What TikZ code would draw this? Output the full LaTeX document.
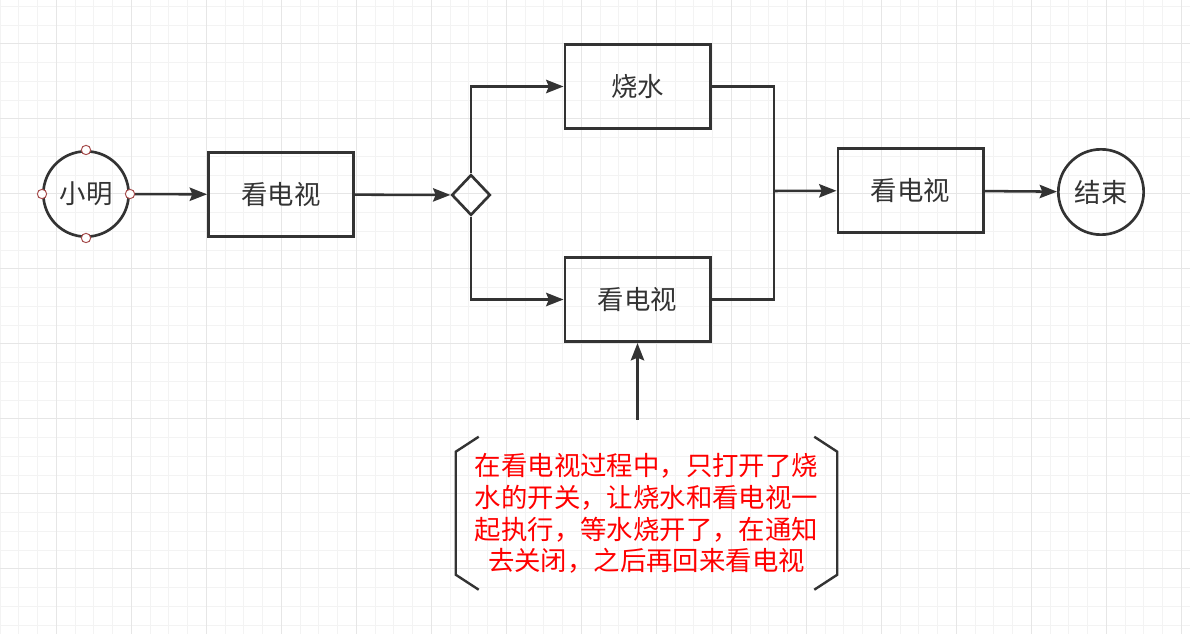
\documentclass[tikz,border=0pt]{standalone}
\usepackage{fontspec}
\usepackage{xcolor}
\usepackage{tikz}
\usetikzlibrary{arrows.meta,positioning,shapes.geometric}
\newfontfamily\cjk{Noto Sans CJK SC}
\definecolor{ink}{HTML}{333333}
\definecolor{gridminor}{HTML}{F3F3F3}
\definecolor{gridmajor}{HTML}{E6E6E6}
\definecolor{handlered}{HTML}{A64D4D}

\begin{document}
\begin{tikzpicture}[
  x=0.75pt, y=-0.75pt,
  font=\cjk\fontsize{19.8pt}{24pt}\selectfont,
  box/.style={draw=ink, line width=2.1pt, text=ink, minimum width=108.9pt,
    minimum height=63.2pt, inner sep=0pt},
  term/.style={circle, draw=ink, line width=2pt, text=ink, minimum size=64pt,
    inner sep=0pt},
  gate/.style={diamond, draw=ink, line width=2pt, minimum width=29pt,
    minimum height=30.5pt, inner sep=0pt},
  handle/.style={circle, draw=handlered, fill=white, line width=0.75pt,
    minimum size=7pt, inner sep=0pt},
  note/.style={text=red, align=center, minimum width=285.75pt,
    minimum height=114.75pt, inner sep=0pt,
    font=\cjk\fontsize{19.8pt}{23.8pt}\selectfont},
  arr/.style={-{Stealth[length=13pt,width=10pt,inset=2pt]}, draw=ink, line width=1.9pt},
  link/.style={draw=ink, line width=1.9pt},
  bracket/.style={draw=ink, line width=1.8pt},
  minorline/.style={draw=gridminor, line width=0.75pt},
  majorline/.style={draw=gridmajor, line width=0.75pt}
]
\useasboundingbox (0,0) rectangle (1190,634);
\fill[white] (0,0) rectangle (1190,634);
\foreach \gx in {0,18.75,...,1190} \draw[minorline] (\gx,0) -- (\gx,634);
\foreach \gy in {6.5,25.25,...,634} \draw[minorline] (0,\gy) -- (1190,\gy);
\foreach \gx in {56.25,131.25,...,1190} \draw[majorline] (\gx,0) -- (\gx,634);
\foreach \gy in {44,119,...,634} \draw[majorline] (0,\gy) -- (1190,\gy);

\node[term] (start) at (86,194) {小明};
\node[box] (watch) at (281,194.5) {看电视};
\node[gate] (gate) at (471,195) {};
\node[box] (boil) at (637.5,86.5) {烧水};
\node[box] (watchB) at (637.5,299.5) {看电视};
\coordinate (join) at (774,191);
\node[box] (watchC) at (910.5,190.5) {看电视};
\node[term] (stop) at (1101,192) {结束};
\node[note] (note) at (646.5,513.5) {在看电视过程中，只打开了烧\\水的开关，让烧水和看电视一\\起执行，等水烧开了，在通知\\去关闭，之后再回来看电视};

\draw[arr] (start) -- (watch);
\draw[arr] (watch) -- (gate);
\draw[arr] (gate.north) |- (boil);
\draw[arr] (gate.south) |- (watchB);
\draw[link] (boil) -| (join) |- (watchB);
\draw[arr] (join) -- (watchC);
\draw[arr] (watchC) -- (stop);
\draw[arr] ([yshift=12.75pt]note.north -| watchB) -- (watchB);
\draw[bracket] ([xshift=17.25pt]note.north west) -- ++(-23,15) -- ++(0,123) -- ++(23,15);
\draw[bracket] ([xshift=-17.25pt]note.north east) -- ++(23,15) -- ++(0,123) -- ++(-23,15);

\foreach \side in {north,south,east,west} \node[handle] at (start.\side) {};
\end{tikzpicture}
\end{document}
